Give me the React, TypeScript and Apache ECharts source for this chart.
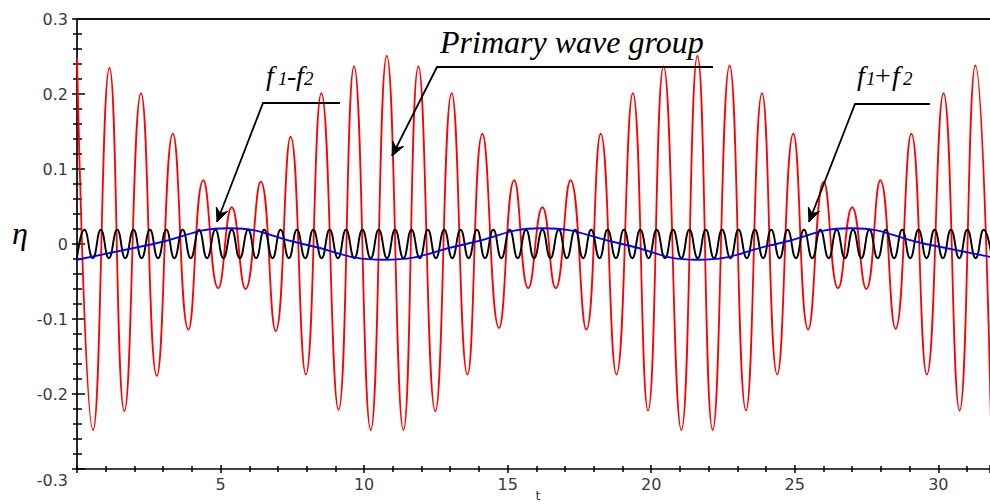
import React, { useEffect, useRef } from "react";
import * as echarts from "echarts";

// Primary wave group (red): extremes [t, eta]
const redT = [0, 0.56, 1.13, 1.65, 2.23, 2.78, 3.34, 3.88, 4.40, 4.92, 5.39, 5.87, 6.40, 6.92, 7.44, 7.97, 8.51, 9.11, 9.65, 10.23, 10.79, 11.37, 11.89, 12.48, 13.05, 13.60, 14.12, 14.70, 15.23, 15.72, 16.21, 16.67, 17.19, 17.74, 18.24, 18.79, 19.36, 19.89, 20.43, 21.05, 21.61, 22.14, 22.73, 23.30, 23.86, 24.39, 24.95, 25.47, 26.01, 26.51, 27.00, 27.49, 27.98, 28.51, 29.06, 29.60, 30.18, 30.74, 31.29, 31.84];
const redV = [0.248, -0.248, 0.235, -0.223, 0.201, -0.176, 0.147, -0.114, 0.085, -0.059, 0.049, -0.060, 0.083, -0.116, 0.143, -0.174, 0.201, -0.221, 0.237, -0.248, 0.251, -0.248, 0.237, -0.223, 0.201, -0.174, 0.147, -0.112, 0.085, -0.059, 0.049, -0.059, 0.085, -0.114, 0.147, -0.174, 0.201, -0.222, 0.237, -0.248, 0.251, -0.248, 0.238, -0.222, 0.201, -0.174, 0.147, -0.114, 0.083, -0.059, 0.049, -0.060, 0.085, -0.113, 0.147, -0.174, 0.201, -0.222, 0.238, -0.248];

// f1+f2 (black): crest and trough times
const blackPeakT = [0.26, 0.83, 1.40, 1.97, 2.54, 3.11, 3.68, 4.25, 4.82, 5.39, 5.96, 6.52, 7.09, 7.66, 8.23, 8.80, 9.37, 9.94, 10.51, 11.08, 11.65, 12.22, 12.79, 13.36, 13.93, 14.50, 15.07, 15.64, 16.21, 16.78, 17.35, 17.91, 18.48, 19.05, 19.62, 20.19, 20.76, 21.33, 21.90, 22.47, 23.04, 23.61, 24.18, 24.75, 25.32, 25.89, 26.46, 27.03, 27.60, 28.17, 28.74, 29.31, 29.87, 30.44, 31.01, 31.58];
const blackTroughT = [0, 0.55, 1.11, 1.68, 2.25, 2.82, 3.39, 3.96, 4.53, 5.10, 5.67, 6.24, 6.81, 7.38, 7.95, 8.52, 9.09, 9.66, 10.23, 10.80, 11.37, 11.94, 12.50, 13.07, 13.64, 14.21, 14.78, 15.35, 15.92, 16.49, 17.06, 17.63, 18.20, 18.77, 19.34, 19.91, 20.48, 21.05, 21.62, 22.19, 22.76, 23.33, 23.90, 24.47, 25.04, 25.61, 26.18, 26.75, 27.32, 27.89, 28.46, 29.02, 29.59, 30.16, 30.73, 31.30, 31.87];
const blackPeakV = 0.019;
const blackTroughV = -0.019;

// f1-f2 (blue): extremes and zero crossings
const blueT = [0, 2.66, 5.3, 7.87, 10.7, 13.55, 16.2, 18.98, 21.6, 24.36, 26.95, 29.56, 32.3];
const blueV = [-0.021, 0, 0.021, 0, -0.021, 0, 0.021, 0, -0.021, 0, 0.021, 0, -0.021];

const xLabelValues = [5, 10, 15, 20, 25, 30];
const yLabelBottom = -0.3;

const SERIF = "'Liberation Serif', 'Times New Roman', serif";
const SANS = "'DejaVu Sans', Verdana, sans-serif";

function arrowHead(tip: number[], tail: number[]) {
  const len = 15;
  const half = (24 * Math.PI) / 180;
  const notch = 9;
  const dx = tail[0] - tip[0];
  const dy = tail[1] - tip[1];
  const L = Math.hypot(dx, dy);
  const ux = dx / L;
  const uy = dy / L;
  const rot = (a: number) => [
    tip[0] + len * (ux * Math.cos(a) - uy * Math.sin(a)),
    tip[1] + len * (ux * Math.sin(a) + uy * Math.cos(a)),
  ];
  return [rot(half), tip, rot(-half), [tip[0] + ux * notch, tip[1] + uy * notch]];
}

function leader(points: number[][]) {
  const tip = points[points.length - 1];
  const tail = points[points.length - 2];
  return [
    {
      type: "polyline",
      shape: { points },
      style: { stroke: "#000", lineWidth: 1.8, fill: null },
      z: 100,
    },
    {
      type: "polygon",
      shape: { points: arrowHead(tip, tail) },
      style: { fill: "#000", stroke: "#000", lineWidth: 1 },
      z: 100,
    },
  ];
}

function txt(text: string, x: number, y: number, size: number, family: string, italic: boolean, align = "left", fill = "#000") {
  return {
    type: "text",
    x,
    y,
    z: 101,
    style: {
      text,
      font: (italic ? "italic " : "normal ") + "normal " + size + "px " + family,
      fill,
      align,
      verticalAlign: "middle",
      textAlign: align,
      textVerticalAlign: "middle",
    },
  };
}

export default function App() {
  const ref = useRef<HTMLDivElement>(null);

  useEffect(() => {
    document.body.style.margin = "0";
    if (!ref.current) return;
    const chart = echarts.init(ref.current, null, { renderer: "svg" });

    const redData = redT.map((t, i) => [t, redV[i]]);
    const blackData: number[][] = [];
    blackTroughT.forEach((t) => blackData.push([t, blackTroughV]));
    blackPeakT.forEach((t) => blackData.push([t, blackPeakV]));
    blackData.sort((a, b) => a[0] - b[0]);
    const blueData = blueT.map((t, i) => [t, blueV[i]]);

    const axisCol = "#000";
    const xBase = {
      type: "value",
      min: 0,
      max: 31.8,
      interval: 5,
      splitLine: { show: false },
    };
    const yBase = {
      type: "value",
      min: -0.3,
      max: 0.3,
      interval: 0.1,
      splitLine: { show: false },
    };

    const baseline = 85;
    const fy = (s: number) => baseline - 0.3375 * s;

    chart.setOption({
      animation: false,
      backgroundColor: "#fff",
      grid: { left: 77, right: -2, top: 19, bottom: 35, containLabel: false },
      xAxis: [
        {
          ...xBase,
          position: "bottom",
          axisLine: { show: true, onZero: false, lineStyle: { color: axisCol, width: 1.7 } },
          axisTick: { show: true, inside: false, length: 4, lineStyle: { color: axisCol, width: 1.5 } },
          minorTick: { show: true, splitNumber: 5, length: 3, lineStyle: { color: axisCol, width: 1.5 } },
          axisLabel: {
            show: true,
            margin: 7,
            color: "#3a3a3a",
            fontSize: 16,
            fontFamily: SANS,
            showMaxLabel: false,
            formatter: (v: number) => (xLabelValues.some((x) => Math.abs(x - v) < 1e-9) ? String(v) : ""),
          },
        },
        {
          ...xBase,
          position: "bottom",
          offset: 0,
          axisLine: { show: false, onZero: false },
          axisTick: { show: true, inside: true, length: 4, lineStyle: { color: axisCol, width: 1.5 } },
          minorTick: { show: true, splitNumber: 5, length: 3, lineStyle: { color: axisCol, width: 1.5 } },
          axisLabel: { show: false },
        },
      ],
      yAxis: [
        {
          ...yBase,
          position: "left",
          axisLine: { show: true, onZero: false, lineStyle: { color: axisCol, width: 1.7 } },
          axisTick: { show: true, inside: false, length: 5, lineStyle: { color: axisCol, width: 1.5 } },
          minorTick: { show: true, splitNumber: 5, length: 4, lineStyle: { color: axisCol, width: 1.5 } },
          axisLabel: {
            show: true,
            margin: 9,
            color: "#3a3a3a",
            fontSize: 16,
            fontFamily: SANS,
            formatter: (v: number) => {
              const s = String(Math.round(v * 10) / 10);
              return Math.abs(v - yLabelBottom) < 1e-9 ? "{low|" + s + "}" : s;
            },
            rich: {
              low: { padding: [22, 0, 0, 0], color: "#3a3a3a", fontSize: 16, fontFamily: SANS },
            },
          },
        },
        {
          ...yBase,
          position: "left",
          offset: 0,
          axisLine: { show: false, onZero: false },
          axisTick: { show: true, inside: true, length: 8, lineStyle: { color: axisCol, width: 1.5 } },
          minorTick: { show: true, splitNumber: 5, length: 5, lineStyle: { color: axisCol, width: 1.5 } },
          axisLabel: { show: false },
        },
      ],
      series: [
        {
          name: "Primary wave group",
          type: "line",
          data: redData,
          smooth: 0.5,
          showSymbol: false,
          symbol: "none",
          lineStyle: { color: "#ff0000", width: 1.8 },
          xAxisIndex: 0,
          yAxisIndex: 0,
          clip: true,
        },
        {
          name: "f1+f2",
          type: "line",
          data: blackData,
          smooth: 0.5,
          showSymbol: false,
          symbol: "none",
          lineStyle: { color: "#000000", width: 1.9 },
          xAxisIndex: 0,
          yAxisIndex: 0,
          clip: true,
        },
        {
          name: "f1-f2",
          type: "line",
          data: blueData,
          smooth: 0.5,
          showSymbol: false,
          symbol: "none",
          lineStyle: { color: "#0000ff", width: 1.8 },
          xAxisIndex: 0,
          yAxisIndex: 0,
          clip: true,
        },
      ],
      graphic: [
        {
          type: "rect",
          shape: { x: 77, y: 18, width: 913, height: 2 },
          style: { fill: "#111", stroke: null },
          z: 90,
        },
        ...leader([[340, 103], [263, 103], [217, 222]]),
        ...leader([[713, 67], [437, 67], [392, 156]]),
        ...leader([[930, 104], [855, 104], [809, 222]]),
        txt("Primary wave group", 440, 41.5, 32, SERIF, true),
        // f1-f2
        txt("f", 266, fy(28), 28, SERIF, true),
        txt("1", 278, fy(19), 19, SERIF, true),
        txt("-", 287, fy(28), 28, SERIF, false),
        txt("f", 296, fy(28), 28, SERIF, true),
        txt("2", 304, fy(19), 19, SERIF, true),
        // f1+f2
        txt("f", 857, fy(28), 28, SERIF, true),
        txt("1", 866, fy(19), 19, SERIF, true),
        txt("+", 875, fy(28), 28, SERIF, false),
        txt("f", 892, fy(28), 28, SERIF, true),
        txt("2", 903, fy(19), 19, SERIF, true),
        // axis names
        txt("η", 20, 233, 32, SERIF, true, "center"),
        txt("t", 538, 495, 13, SANS, false, "center", "#3a3a3a"),
      ],
    });

    return () => chart.dispose();
  }, []);

  return <div ref={ref} style={{ width: 990, height: 504 }} />;
}
